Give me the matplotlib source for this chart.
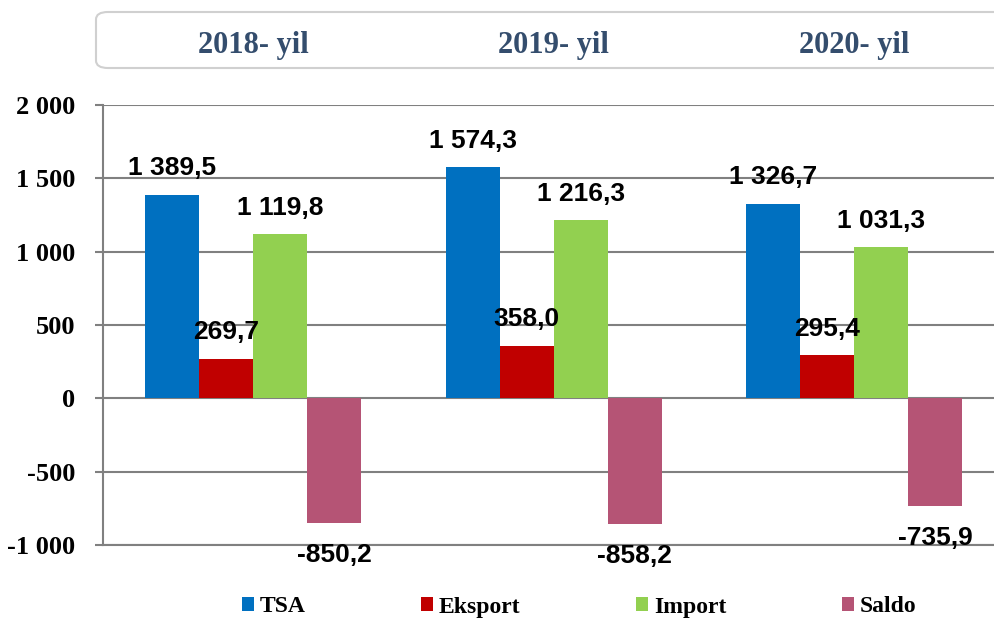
import matplotlib
matplotlib.use('Agg')
import matplotlib.pyplot as plt
import numpy as np
from matplotlib.patches import FancyBboxPatch, Patch
from matplotlib.transforms import blended_transform_factory

years = ['2018- yil', '2019- yil', '2020- yil']
series = ['TSA', 'Eksport', 'Import', 'Saldo']
tsa = [1389.5, 1574.3, 1326.7]
eksport = [269.7, 358.0, 295.4]
imports = [1119.8, 1216.3, 1031.3]
saldo = [-850.2, -858.2, -735.9]
yticks = [-1000, -500, 0, 500, 1000, 1500, 2000]

colors = ['#0070C0', '#C00000', '#92D050', '#B55475']
values = [tsa, eksport, imports, saldo]


def fmt(v, dec=1):
    s = f"{v:,.{dec}f}"
    return s.replace(',', ' ').replace('.', ',')


fig = plt.figure(figsize=(9.95, 6.19), dpi=100)
# plot area runs a bit past the right edge, like the original
ax = fig.add_axes([103/995, 74/619, 901.5/995, 440/619])

x = np.arange(len(years))
w = 0.18
for i, (name, vals) in enumerate(zip(series, values)):
    xs = x + (i - 1.5) * w
    ax.bar(xs, vals, w, color=colors[i], zorder=3)
    for xi, v in zip(xs, vals):
        off = 19 if v >= 0 else -23
        ax.annotate(fmt(v), (xi, v), xytext=(0, off), textcoords='offset points',
                    ha='center', va='center', fontsize=19, fontweight='bold',
                    family='Liberation Sans', color='black', zorder=5)

ax.set_xlim(-0.5, 2.5)
ax.set_ylim(-1000, 2000)
ax.set_yticks(yticks)
ax.set_yticklabels([fmt(t, 0) for t in yticks], fontsize=19, fontweight='bold',
                   family='Liberation Serif')
ax.set_xticks([])
ax.tick_params(axis='y', direction='out', length=6, width=1.5, color='#808080', pad=14)
ax.yaxis.grid(True, color='#808080', linewidth=1.5, zorder=0)
for s in ['top', 'right']:
    ax.spines[s].set_visible(False)
for s in ['left', 'bottom']:
    ax.spines[s].set_color('#808080')
    ax.spines[s].set_linewidth(1.5)

# header box with year titles
box = FancyBboxPatch((96/995, 1 - 68/619), 0.95, 56/619,
                     boxstyle='round,pad=0,rounding_size=0.012',
                     transform=fig.transFigure, facecolor='none',
                     edgecolor='#d0d0d0', linewidth=1.5)
fig.patches.append(box)
trans = blended_transform_factory(ax.transData, fig.transFigure)
for xi, yr in zip(x, years):
    ax.text(xi, 1 - 45/619, yr, transform=trans, ha='center', va='center',
            fontsize=22, fontweight='bold', family='Liberation Serif',
            color='#344d6d', clip_on=False)

handles = [Patch(facecolor=c, edgecolor='none', label=n) for c, n in zip(colors, series)]
fig.legend(handles=handles, loc='center', bbox_to_anchor=(579/995, 1 - 607/619),
           ncol=4, frameon=False, handlelength=0.5, handleheight=0.5,
           handletextpad=0.25, columnspacing=4.9,
           prop={'family': 'Liberation Serif', 'weight': 'bold', 'size': 17})

fig.savefig('out.png', dpi=100)
